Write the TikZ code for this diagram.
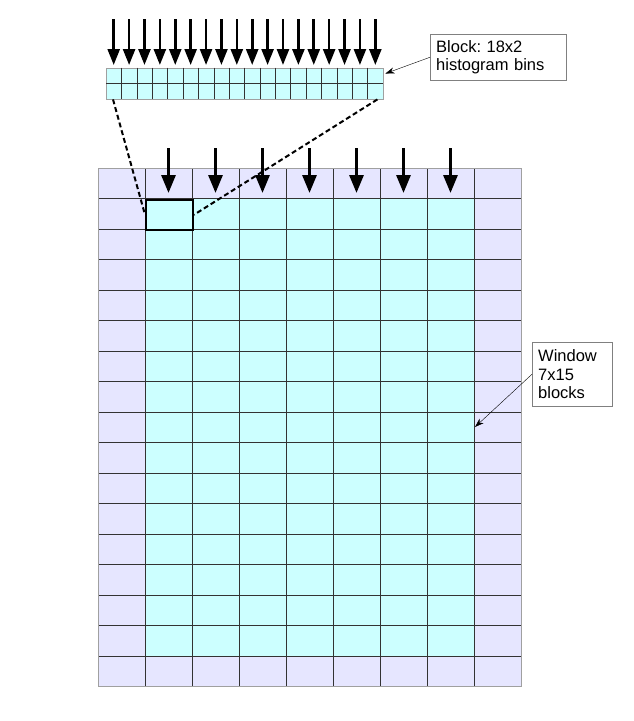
\documentclass[tikz,border=0pt]{standalone}
\usepackage{fontspec}
\setmainfont{Liberation Sans}
\usetikzlibrary{arrows.meta}
\definecolor{cellcyan}{HTML}{CCFFFF}
\definecolor{celllav}{HTML}{E6E6FF}
\definecolor{gridgray}{HTML}{333333}
\definecolor{edgegray}{HTML}{A0A0A0}
\definecolor{boxgray}{HTML}{808080}
\frenchspacing

\begin{document}
\begin{tikzpicture}[x=1pt,y=-1pt,>=Stealth,
  font=\fontsize{16.5}{18.7}\selectfont,
  callout/.style={draw=boxgray,fill=white,inner sep=6pt,align=left,anchor=north west},
  binarrow/.style={line width=2.6pt,-{Triangle[length=16pt,width=12pt]}},
  blockarrow/.style={line width=3pt,-{Triangle[length=18pt,width=14pt]}},
  pointer/.style={black,thin,-{Stealth[length=9pt,width=6pt]}}]
  \useasboundingbox (0,0) rectangle (633,721);
  % window of blocks
  \fill[celllav] (98,168) rectangle (521,686.5);
  \fill[cellcyan] (145,198.5) rectangle (474,656);
  \foreach \i in {1,...,8} \draw[gridgray] (98+47*\i,168) -- (98+47*\i,686.5);
  \foreach \j in {1,...,16} \draw[gridgray] (98,168+30.5*\j) -- (521,168+30.5*\j);
  \draw[edgegray] (98,168) rectangle (521,686.5);
  \node[draw=black,line width=2pt,minimum width=47,minimum height=30.5,inner sep=0,anchor=north west] (block) at (145,198.5) {};
  \foreach \i in {0,...,6} \draw[blockarrow] (168.5+47*\i,148) -- +(0,45);
  % histogram bins of one block
  \node[draw=edgegray,fill=cellcyan,minimum width=277,minimum height=31.3,inner sep=0,anchor=north west] (strip) at (106,67.7) {};
  \foreach \i in {1,...,17} \draw[gridgray] (106+15.39*\i,67.7) -- (106+15.39*\i,99);
  \draw[gridgray] (strip.west) -- (strip.east);
  \foreach \i in {0,...,17} \draw[binarrow] (113.7+15.39*\i,19) -- +(0,46);
  \draw[line width=2pt,dash pattern=on 5pt off 3pt] ([xshift=7]strip.south west) -- (block.west);
  \draw[line width=2pt,dash pattern=on 5pt off 3pt] ([xshift=-6]strip.south east) -- (block.east);
  % labels
  \node[callout,text width=124pt,minimum height=45pt] (binlabel) at (430,34) {Block: 18x2\\histogram bins};
  \draw[pointer] (binlabel.west) -- ([xshift=2,yshift=10]strip.east);
  \node[callout,text width=68pt,minimum height=64pt] (winlabel) at (532,342) {Window\\7x15\\blocks};
  \coordinate (winpt) at (475,427);
  \draw[pointer] (winlabel.west) -- (winpt);
\end{tikzpicture}
\end{document}
